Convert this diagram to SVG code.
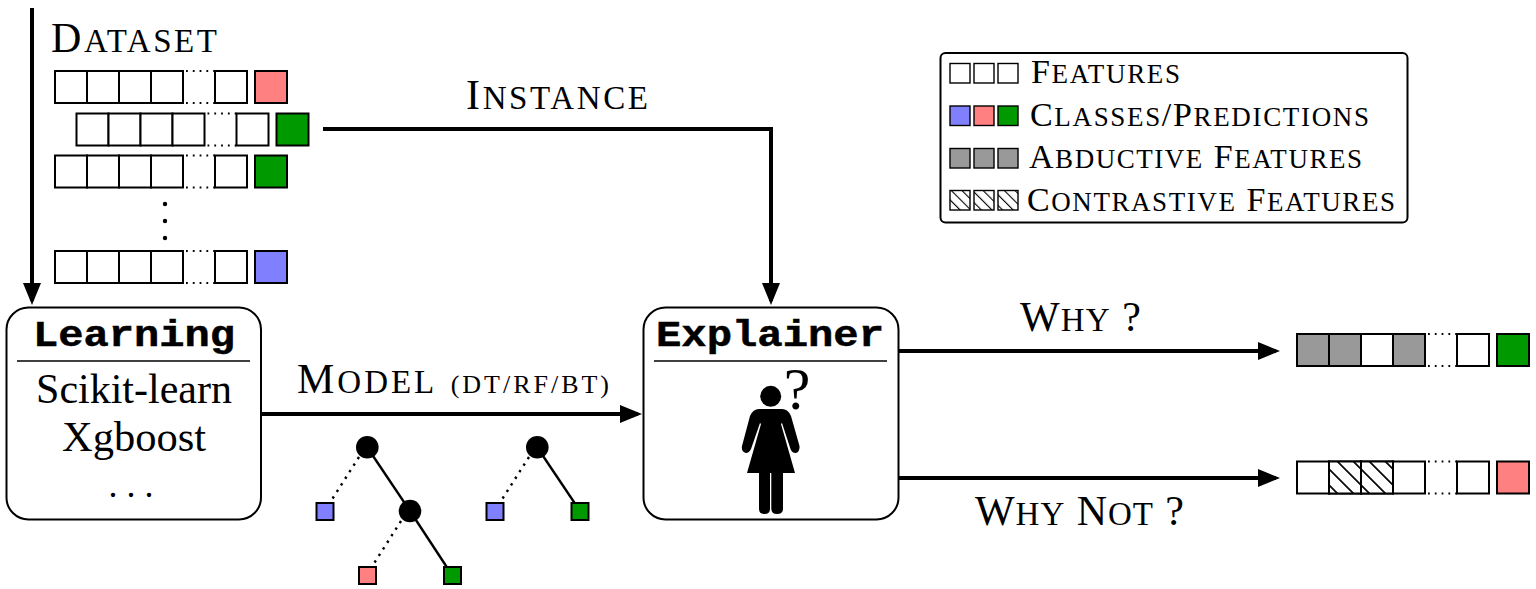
<svg xmlns="http://www.w3.org/2000/svg" xmlns:xlink="http://www.w3.org/1999/xlink" width="1536" height="589" viewBox="0 0 1536 589">
<style>
.t{font-family:"Liberation Serif","Times New Roman",serif;fill:#000}
.m{font-family:"Liberation Mono","Courier New",monospace;font-weight:700;font-size:36px;fill:#000;stroke:#000;stroke-width:.5}
.c{fill:#fff;stroke:#000;stroke-width:2}
.thin{stroke-width:1.4}
.d{fill:none;stroke:#000;stroke-width:1.8;stroke-dasharray:1.8 5}
.box{fill:#fff;stroke:#000;stroke-width:2}
.sep{stroke:#000;stroke-width:1.6}
.a{fill:none;stroke:#000;stroke-width:4}
.pk{fill:#ff8080}.gr{fill:#009900}.bl{fill:#8080ff}.gy{fill:#999}
.ln{stroke:#000;stroke-width:2.4;fill:none}
.ld{stroke:#000;stroke-width:2.4;fill:none;stroke-dasharray:2.4 5.4}
.lf{stroke:#000;stroke-width:2}
</style>
<defs>
<pattern id="h1" width="11.3" height="11.3" patternUnits="userSpaceOnUse" patternTransform="translate(1329 461) rotate(-45)"><rect width="11.3" height="11.3" fill="#fff"/><line x1="5.6" y1="0" x2="5.6" y2="11.3" stroke="#000" stroke-width="1.8"/></pattern>
<pattern id="h2" width="7.5" height="7.5" patternUnits="userSpaceOnUse" patternTransform="translate(950 190) rotate(-45)"><rect width="7.5" height="7.5" fill="#fff"/><line x1="0" y1="0" x2="0" y2="7.5" stroke="#000" stroke-width="2.2"/></pattern>
<marker id="ah" markerUnits="userSpaceOnUse" markerWidth="24" markerHeight="20" refX="18" refY="9" orient="auto"><path d="M0 0L22 9L0 18L0 0Z" fill="#000"/></marker>
<g id="row">
<rect class="c" x="0" y="0" width="32" height="32"/><rect class="c" x="32" y="0" width="32" height="32"/><rect class="c" x="64" y="0" width="32" height="32"/><rect class="c" x="96" y="0" width="32" height="32"/>
<line class="d" x1="131" y1="0" x2="160" y2="0"/><line class="d" x1="131" y1="32" x2="160" y2="32"/>
<rect class="c" x="160" y="0" width="32" height="32"/>
</g>
</defs>
<rect width="1536" height="589" fill="#fff"/>

<g id="connectors">
<line class="a" x1="32" y1="8" x2="32" y2="301" marker-end="url(#ah)"/>
<path class="a" d="M323 129H771V301" marker-end="url(#ah)"/>
<line class="a" x1="261" y1="414" x2="638" y2="414" marker-end="url(#ah)"/>
<line class="a" x1="899" y1="351" x2="1276" y2="351" marker-end="url(#ah)"/>
<line class="a" x1="899" y1="478" x2="1276" y2="478" marker-end="url(#ah)"/>
</g>

<g id="dataset">
<text class="t" x="51" y="52" font-size="42" textLength="166" lengthAdjust="spacing">D<tspan font-size="33">ATASET</tspan></text>
<use href="#row" x="55" y="71"/><rect class="c pk" x="255" y="71" width="32" height="32"/>
<use href="#row" x="76.500" y="113.500"/><rect class="c gr" x="276.500" y="113.500" width="32" height="32"/>
<use href="#row" x="55" y="155.500"/><rect class="c gr" x="255" y="155.500" width="32" height="32"/>
<circle cx="165" cy="204" r="2.200"/><circle cx="165" cy="221" r="2.200"/><circle cx="165" cy="238" r="2.200"/>
<use href="#row" x="55" y="251"/><rect class="c bl" x="255" y="251" width="32" height="32"/>
</g>

<g id="instance-label"><text class="t" x="466" y="109" font-size="42" textLength="182" lengthAdjust="spacing">I<tspan font-size="33">NSTANCE</tspan></text></g>
<g id="model-label"><text class="t" x="297" y="393" font-size="42" textLength="312" lengthAdjust="spacing">M<tspan font-size="33">ODEL</tspan> <tspan font-size="26">(DT/RF/BT)</tspan></text></g>
<g id="why-label"><text class="t" x="1020" y="331" font-size="42" textLength="121" lengthAdjust="spacing">W<tspan font-size="33">HY</tspan> ?</text></g>
<g id="whynot-label"><text class="t" x="975" y="525" font-size="42" textLength="209" lengthAdjust="spacing">W<tspan font-size="33">HY</tspan> N<tspan font-size="33">OT</tspan> ?</text></g>

<g id="legend">
<rect class="box" x="940.500" y="53" width="467" height="169.500" rx="5"/>
<rect class="c thin" x="950" y="63.500" width="20" height="19.500"/><rect class="c thin" x="974" y="63.500" width="20" height="19.500"/><rect class="c thin" x="998" y="63.500" width="20" height="19.500"/>
<rect class="c thin bl" x="950" y="106" width="20" height="19.500"/><rect class="c thin pk" x="974" y="106" width="20" height="19.500"/><rect class="c thin gr" x="998" y="106" width="20" height="19.500"/>
<rect class="c thin gy" x="950" y="148.500" width="20" height="19.500"/><rect class="c thin gy" x="974" y="148.500" width="20" height="19.500"/><rect class="c thin gy" x="998" y="148.500" width="20" height="19.500"/>
<rect class="c thin" style="fill:url(#h2)" x="950" y="190.500" width="20" height="19.500"/><rect class="c thin" style="fill:url(#h2)" x="974" y="190.500" width="20" height="19.500"/><rect class="c thin" style="fill:url(#h2)" x="998" y="190.500" width="20" height="19.500"/>
<text class="t" x="1031" y="83" font-size="34" textLength="149" lengthAdjust="spacing">F<tspan font-size="27">EATURES</tspan></text>
<text class="t" x="1030" y="125.500" font-size="34" textLength="339" lengthAdjust="spacing">C<tspan font-size="27">LASSES</tspan>/P<tspan font-size="27">REDICTIONS</tspan></text>
<text class="t" x="1029" y="168" font-size="34" textLength="333" lengthAdjust="spacing">A<tspan font-size="27">BDUCTIVE</tspan> F<tspan font-size="27">EATURES</tspan></text>
<text class="t" x="1027" y="211" font-size="34" textLength="368" lengthAdjust="spacing">C<tspan font-size="27">ONTRASTIVE</tspan> F<tspan font-size="27">EATURES</tspan></text>
</g>

<g id="learning">
<rect class="box" x="6.500" y="307.500" width="254.500" height="212" rx="22"/>
<text class="m" x="33" y="346" textLength="202" lengthAdjust="spacingAndGlyphs">Learning</text>
<line class="sep" x1="17" y1="361" x2="250" y2="361"/>
<text class="t" x="134" y="403" font-size="42" text-anchor="middle">Scikit-learn</text>
<text class="t" x="134" y="451" font-size="42.500" text-anchor="middle">Xgboost</text>
<text class="t" x="131" y="497" font-size="36" text-anchor="middle">. . .</text>
</g>

<g id="explainer">
<rect class="box" x="643.500" y="307.500" width="255" height="212" rx="22"/>
<text class="m" x="656" y="346" textLength="228" lengthAdjust="spacingAndGlyphs">Explainer</text>
<line class="sep" x1="654" y1="361" x2="887" y2="361"/>
<circle cx="770.700" cy="396.300" r="10.500"/>
<path d="M759 409H782Q788 409 791 416L799.500 446Q800 452 795.500 453Q792 453 790.500 449L782 423L781 424L795 473H783V509Q783 514 777 514Q771.500 514 771.300 509V473H770V509Q770 514 764.500 514Q759 514 759 509V473H747L761 424L760 423L751 449Q749 453 746 453Q741 452 742 446L750 416Q753 409 759 409Z"/>
<text class="t" x="797" y="409" font-size="60" text-anchor="middle">?</text>
</g>

<g id="tree1">
<line class="ld" x1="359" y1="457" x2="331" y2="501"/><line class="ln" x1="367" y1="447" x2="410" y2="511"/>
<line class="ld" x1="401" y1="521" x2="373" y2="565"/><line class="ln" x1="410" y1="511" x2="452" y2="575"/>
<circle cx="367.300" cy="447.300" r="11.300"/><circle cx="410" cy="511" r="11.300"/>
<rect class="lf bl" x="316.500" y="503" width="17" height="17"/><rect class="lf pk" x="359" y="567" width="17" height="17"/><rect class="lf gr" x="444" y="567" width="17" height="17"/>
</g>
<g id="tree2">
<line class="ld" x1="529" y1="457" x2="501" y2="501"/><line class="ln" x1="537" y1="447" x2="580" y2="511"/>
<circle cx="537.300" cy="447.300" r="11.300"/>
<rect class="lf bl" x="486.500" y="503" width="17" height="17"/><rect class="lf gr" x="571.500" y="503" width="17" height="17"/>
</g>

<g id="why-output">
<use href="#row" x="1297" y="334"/>
<rect class="c gy" x="1297" y="334" width="32" height="32"/><rect class="c gy" x="1329" y="334" width="32" height="32"/><rect class="c gy" x="1393" y="334" width="32" height="32"/>
<rect class="c gr" x="1497" y="334" width="32" height="32"/>
</g>
<g id="whynot-output">
<use href="#row" x="1297" y="461.500"/>
<rect class="c" style="fill:url(#h1)" x="1329" y="461.500" width="32" height="32"/><rect class="c" style="fill:url(#h1)" x="1361" y="461.500" width="32" height="32"/>
<rect class="c pk" x="1497" y="461.500" width="32" height="32"/>
</g>
</svg>
